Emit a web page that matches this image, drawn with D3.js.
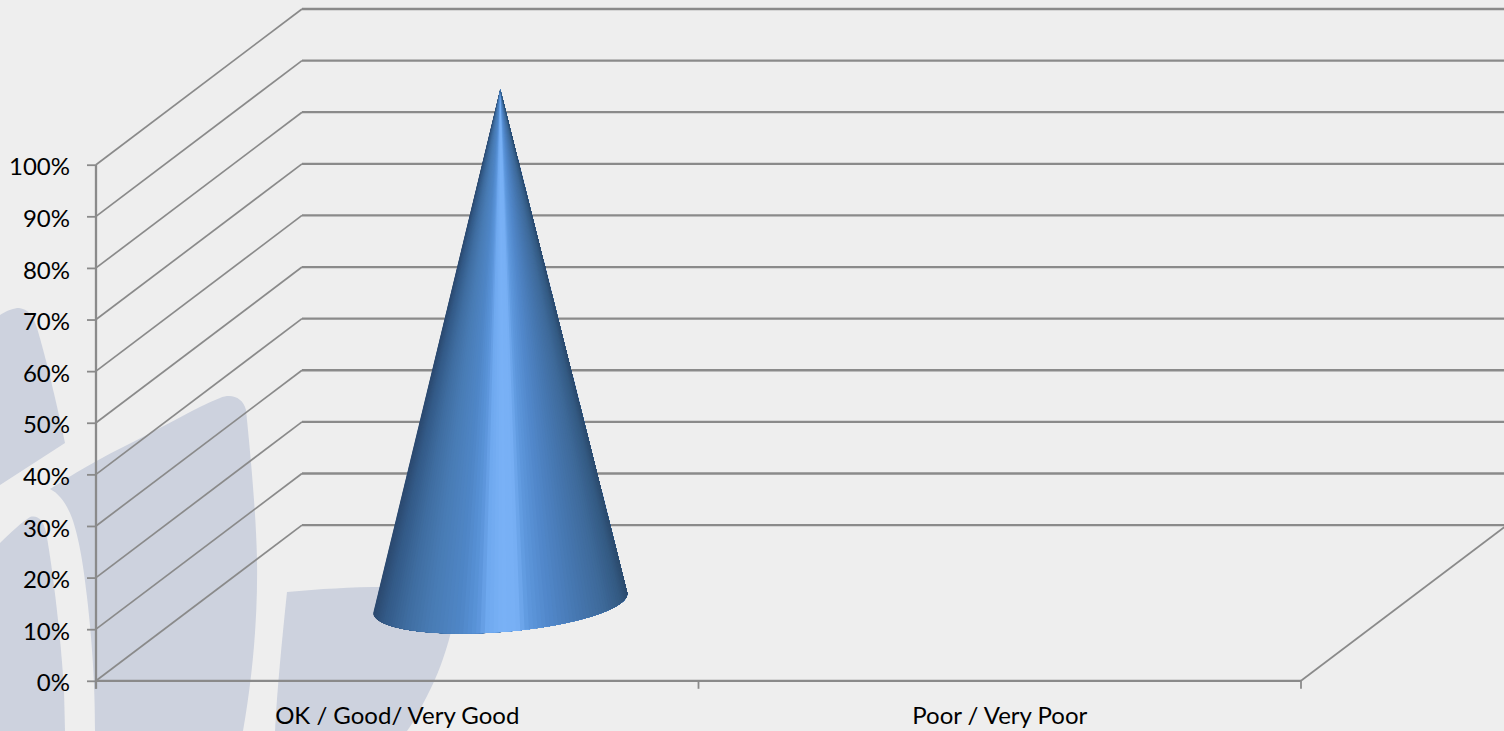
<!DOCTYPE html>
<html><head><meta charset="utf-8">
<script src="https://cdn.jsdelivr.net/npm/d3@7"></script>
<style>
html,body{margin:0;padding:0;background:#eeeeee;overflow:hidden}
svg{display:block}
text{font-family:Lato,"Liberation Sans",sans-serif}
</style></head><body>
<svg id="c" width="1504" height="731"></svg>
<script>
const categories = ["OK / Good/ Very Good", "Poor / Very Poor"];
const seriesValues = [99.5, 0];
const yTicks = [0,10,20,30,40,50,60,70,80,90,100];

const width = 1504, height = 731;
const frontLeft = 96, frontRight = 1301, frontBottom = 680.8, frontTop = 164.7;
const depthX = 206, depthY = -155.7;
const gridColor = "#8a8a8a", bg = "#eeeeee", mark = "#cdd2de";

const svg = d3.select("#c");
svg.append("rect").attr("width", width).attr("height", height).attr("fill", bg);

// background watermark artwork
const watermark = [
 "M0,315 C8,310 14,308 19,308 C28,309 33,316 37,328 C46,358 57,405 65,443 L0,485 Z",
 "M50,489 C70,476 100,458 135,441 C165,426 195,408 220,398 C232,393 243,398 246,410 C250,450 256,510 257,560 C258,620 252,680 243,731 L95,731 C95,690 93,650 87,597 C83,560 78,535 72,518 C67,505 60,494 50,489 Z",
 "M0,543 C10,533 22,522 30,517 C38,515 43,520 46,532 C53,570 61,640 64,690 L65,731 L0,731 Z",
 "M287,592 C320,589 350,587 385,587 L458,590 C456,620 445,660 430,690 C422,706 415,720 407,731 L275,731 C277,690 282,640 287,592 Z"
];
svg.append("g").selectAll("path").data(watermark).join("path").attr("d", d => d).attr("fill", mark);

const y = d3.scaleLinear().domain([0,100]).range([frontBottom, frontTop]);
const x = d3.scaleBand().domain(categories).range([frontLeft, frontRight]);

// gridlines: side wall diagonal + back wall horizontal
const grid = svg.append("g").attr("fill","none").attr("stroke",gridColor);
grid.selectAll("path.diag").data(yTicks).join("path").attr("class","diag")
  .attr("stroke-width",1.7)
  .attr("d", t => d3.line()([[frontLeft,y(t)],[frontLeft+depthX,y(t)+depthY]]));
grid.selectAll("path.back").data(yTicks).join("path").attr("class","back")
  .attr("stroke-width",2.3)
  .attr("d", t => d3.line()([[frontLeft+depthX,y(t)+depthY],[frontRight+depthX,y(t)+depthY]]));
grid.append("path").attr("stroke-width",1.7)
  .attr("d", d3.line()([[frontRight,y(0)],[frontRight+depthX,y(0)+depthY]]));

// axes
const yAxis = svg.append("g").attr("transform",`translate(${frontLeft},0)`)
  .call(d3.axisLeft(y).tickValues(yTicks).tickFormat(d=>d+"%").tickSize(9).tickPadding(17));
yAxis.select(".domain").attr("stroke",gridColor).attr("stroke-width",2.3).attr("d",`M0,${frontTop}V${frontBottom+8}`);
yAxis.selectAll(".tick line").attr("stroke",gridColor).attr("stroke-width",1.8);
yAxis.selectAll("text").attr("font-size",24).attr("fill","#000").attr("dy","0.42em");

const xAxis = svg.append("g").attr("transform",`translate(0,${frontBottom})`)
  .call(d3.axisBottom(x).tickSize(0).tickPadding(26));
xAxis.select(".domain").attr("stroke",gridColor).attr("stroke-width",2.3).attr("d",`M${frontLeft},0H${frontRight}`);
xAxis.selectAll("text").attr("font-size",24).attr("fill","#000");
xAxis.selectAll("line.edge").data([frontLeft, frontLeft+x.bandwidth(), frontRight]).join("line")
  .attr("class","edge").attr("x1",d=>d).attr("x2",d=>d).attr("y1",0).attr("y2",8)
  .attr("stroke",gridColor).attr("stroke-width",1.8);

// cone
const coneStops = [
 [0.00,"#2c4a70"],[0.04,"#335a87"],[0.12,"#3f6da0"],[0.22,"#497cb5"],[0.33,"#4f86c6"],
 [0.40,"#5a94da"],[0.44,"#70a9ef"],[0.50,"#79b1f6"],[0.56,"#77aff4"],[0.60,"#5f99de"],
 [0.68,"#5288cb"],[0.80,"#4677b0"],[0.90,"#3e6a9a"],[0.97,"#345a83"],[1.00,"#2c4b6e"]
];
const coneColor = d3.scaleLinear().domain(coneStops.map(s=>s[0])).range(coneStops.map(s=>s[1]));
const cones = categories.map((c,i)=>({c,v:seriesValues[i]})).filter(d=>d.v>0);
const coneG = svg.append("g");
const rx = 127.4, ry = 29, tilt = -20/254;
cones.forEach(d=>{
  const cx = x(d.c)+x.bandwidth()/2+depthX/2;
  const cy = y(0)+depthY/2;
  const tip = [cx, y(d.v)+depthY/2];
  const pt = th => {
    const a = -rx*Math.cos(th), b = ry*Math.sin(th);
    return [cx + a*Math.cos(tilt) - b*Math.sin(tilt), cy + a*Math.sin(tilt) + b*Math.cos(tilt)];
  };
  const n = 90;
  // each wedge runs on to the far edge, so later wedges paint over the seams
  const facets = d3.range(n).map(i=>({a:Math.PI*i/n,b:Math.PI*(i+1)/n}));
  coneG.selectAll("path.f").data(facets).join("path").attr("class","f")
    .attr("d",f=>{
      const pts=[tip];
      const steps=Math.max(2,Math.ceil((Math.PI-f.a)/(Math.PI/60)));
      for(let k=0;k<=steps;k++) pts.push(pt(f.a+(Math.PI-f.a)*k/steps));
      return d3.line()(pts)+"Z";
    })
    .attr("fill",f=>coneColor((1-Math.cos((f.a+f.b)/2))/2));
});
</script>
</body></html>
